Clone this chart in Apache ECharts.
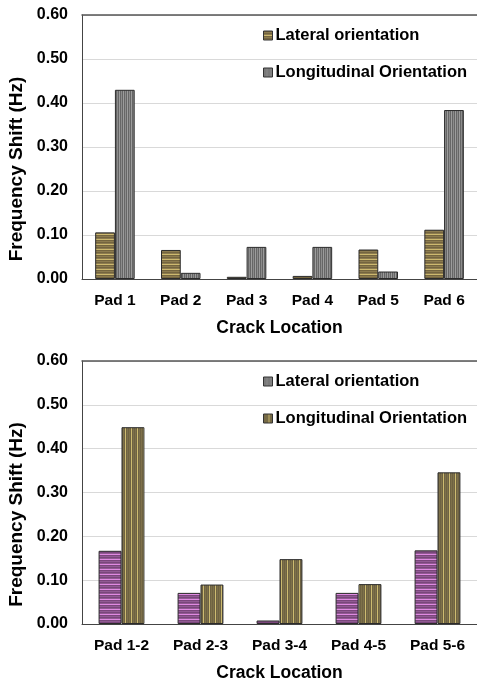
<!DOCTYPE html>
<html>
<head>
<meta charset="utf-8">
<script src="https://cdn.jsdelivr.net/npm/echarts@6/dist/echarts.min.js"></script>
<style>html,body{margin:0;padding:0;background:#fff}#c{width:477px;height:681px}</style>
</head>
<body>
<div id="c"></div>
<script>
// ---- data ----
const topCategories = ['Pad 1', 'Pad 2', 'Pad 3', 'Pad 4', 'Pad 5', 'Pad 6'];
const topLateral = [0.106, 0.066, 0.005, 0.007, 0.067, 0.112];
const topLongitudinal = [0.430, 0.014, 0.073, 0.073, 0.017, 0.384];

const botCategories = ['Pad 1-2', 'Pad 2-3', 'Pad 3-4', 'Pad 4-5', 'Pad 5-6'];
const botLateral = [0.167, 0.071, 0.008, 0.071, 0.168];
const botLongitudinal = [0.449, 0.090, 0.148, 0.091, 0.346];

const yTicks = [0, 0.1, 0.2, 0.3, 0.4, 0.5, 0.6];
const seriesNames = ['Lateral orientation', 'Longitudinal Orientation'];
const xName = 'Crack Location';
const yName = 'Frequency Shift (Hz)';

// ---- patterns ----
function stripes(colors, vertical) {
  const c = document.createElement('canvas');
  const n = colors.length;
  c.width = vertical ? n : 1;
  c.height = vertical ? 1 : n;
  const ctx = c.getContext('2d');
  colors.forEach((col, i) => {
    ctx.fillStyle = col;
    if (vertical) ctx.fillRect(i, 0, 1, 1); else ctx.fillRect(0, i, 1, 1);
  });
  return { image: c, repeat: 'repeat' };
}
const oliveH = stripes(['#74653f', '#8c7b4f', '#74653f', '#8c7b4f', '#cdb96f'], false);
const grayV = stripes(['#666666', '#8c8c8c', '#666666', '#9c9c9c'], true);
const purpleH = stripes(['#7a467c', '#905a92', '#7a467c', '#905a92', '#e08ae2'], false);
const oliveV = stripes(['#6e6242', '#7e714a', '#6e6242', '#7e714a', '#6e6242', '#cdbb70'], true);

const FONT = 'Liberation Sans';
const textBase = { fontFamily: FONT, fontWeight: 'bold', color: '#000' };

function xAxisDef(gridIndex, cats, margin, gap) {
  return {
    type: 'category', gridIndex, data: cats,
    axisLine: { lineStyle: { color: '#444', width: 1 } },
    axisTick: { alignWithLabel: true, length: 5, lineStyle: { color: '#444' } },
    axisLabel: Object.assign({ fontSize: 15.5, margin }, textBase),
    name: xName, nameLocation: 'middle', nameGap: gap,
    nameTextStyle: Object.assign({ fontSize: 17.5 }, textBase)
  };
}
function topBorderAxis(gridIndex) {
  return {
    type: 'category', gridIndex, position: 'top', data: [],
    axisLine: { show: true, lineStyle: { color: '#555', width: 1.5 } },
    axisTick: { show: false }, axisLabel: { show: false }
  };
}
function yAxisDef(gridIndex) {
  return {
    type: 'value', gridIndex, min: yTicks[0], max: yTicks[yTicks.length - 1], interval: 0.1,
    axisLine: { show: true, lineStyle: { color: '#444', width: 1 } },
    axisTick: { show: false },
    splitLine: { lineStyle: { color: '#d9d9d9', width: 1 } },
    axisLabel: Object.assign({ fontSize: 16, margin: 14, formatter: v => v.toFixed(2) }, textBase),
    name: yName, nameLocation: 'middle', nameGap: 50,
    nameTextStyle: Object.assign({ fontSize: 19, padding: [0, 44, 0, 0] }, textBase)
  };
}
function bar(name, data, xi, yi, color, gap) {
  return {
    type: 'bar', name, data, xAxisIndex: xi, yAxisIndex: yi,
    barGap: '0%', barCategoryGap: gap,
    itemStyle: { color, borderColor: '#2b2b2b', borderWidth: 1 },
    emphasis: { disabled: true }, animation: false
  };
}
function legendDef(top, items) {
  return {
    orient: 'vertical', left: 258, top, itemGap: 20,
    itemWidth: 9, itemHeight: 9, icon: 'rect',
    textStyle: Object.assign({ fontSize: 16.5, padding: [0, 0, 0, -2] }, textBase),
    selectedMode: false,
    data: items
  };
}

const chart = echarts.init(document.getElementById('c'), null, { renderer: 'canvas' });
chart.setOption({
  animation: false,
  backgroundColor: '#fff',
  grid: [
    { left: 82, top: 15, right: 0, bottom: 402, outerBoundsMode: 'none', containLabel: false },
    { left: 82, top: 361, right: 0, bottom: 57, outerBoundsMode: 'none', containLabel: false }
  ],
  legend: [
    legendDef(22, [
      { name: seriesNames[0], itemStyle: { color: oliveH, borderColor: '#333', borderWidth: 1 } },
      { name: seriesNames[1], itemStyle: { color: grayV, borderColor: '#333', borderWidth: 1 } }
    ]),
    legendDef(368, [
      { name: seriesNames[0] + ' ', itemStyle: { color: grayV, borderColor: '#333', borderWidth: 1 } },
      { name: seriesNames[1] + ' ', itemStyle: { color: oliveV, borderColor: '#333', borderWidth: 1 } }
    ])
  ],
  xAxis: [xAxisDef(0, topCategories, 14, 40), xAxisDef(1, botCategories, 14, 40), topBorderAxis(0), topBorderAxis(1)],
  yAxis: [yAxisDef(0), yAxisDef(1)],
  series: [
    bar(seriesNames[0], topLateral, 0, 0, oliveH, '40%'),
    bar(seriesNames[1], topLongitudinal, 0, 0, grayV, '40%'),
    bar(seriesNames[0] + ' ', botLateral, 1, 1, purpleH, '42%'),
    bar(seriesNames[1] + ' ', botLongitudinal, 1, 1, oliveV, '42%')
  ]
});
</script>
</body>
</html>
